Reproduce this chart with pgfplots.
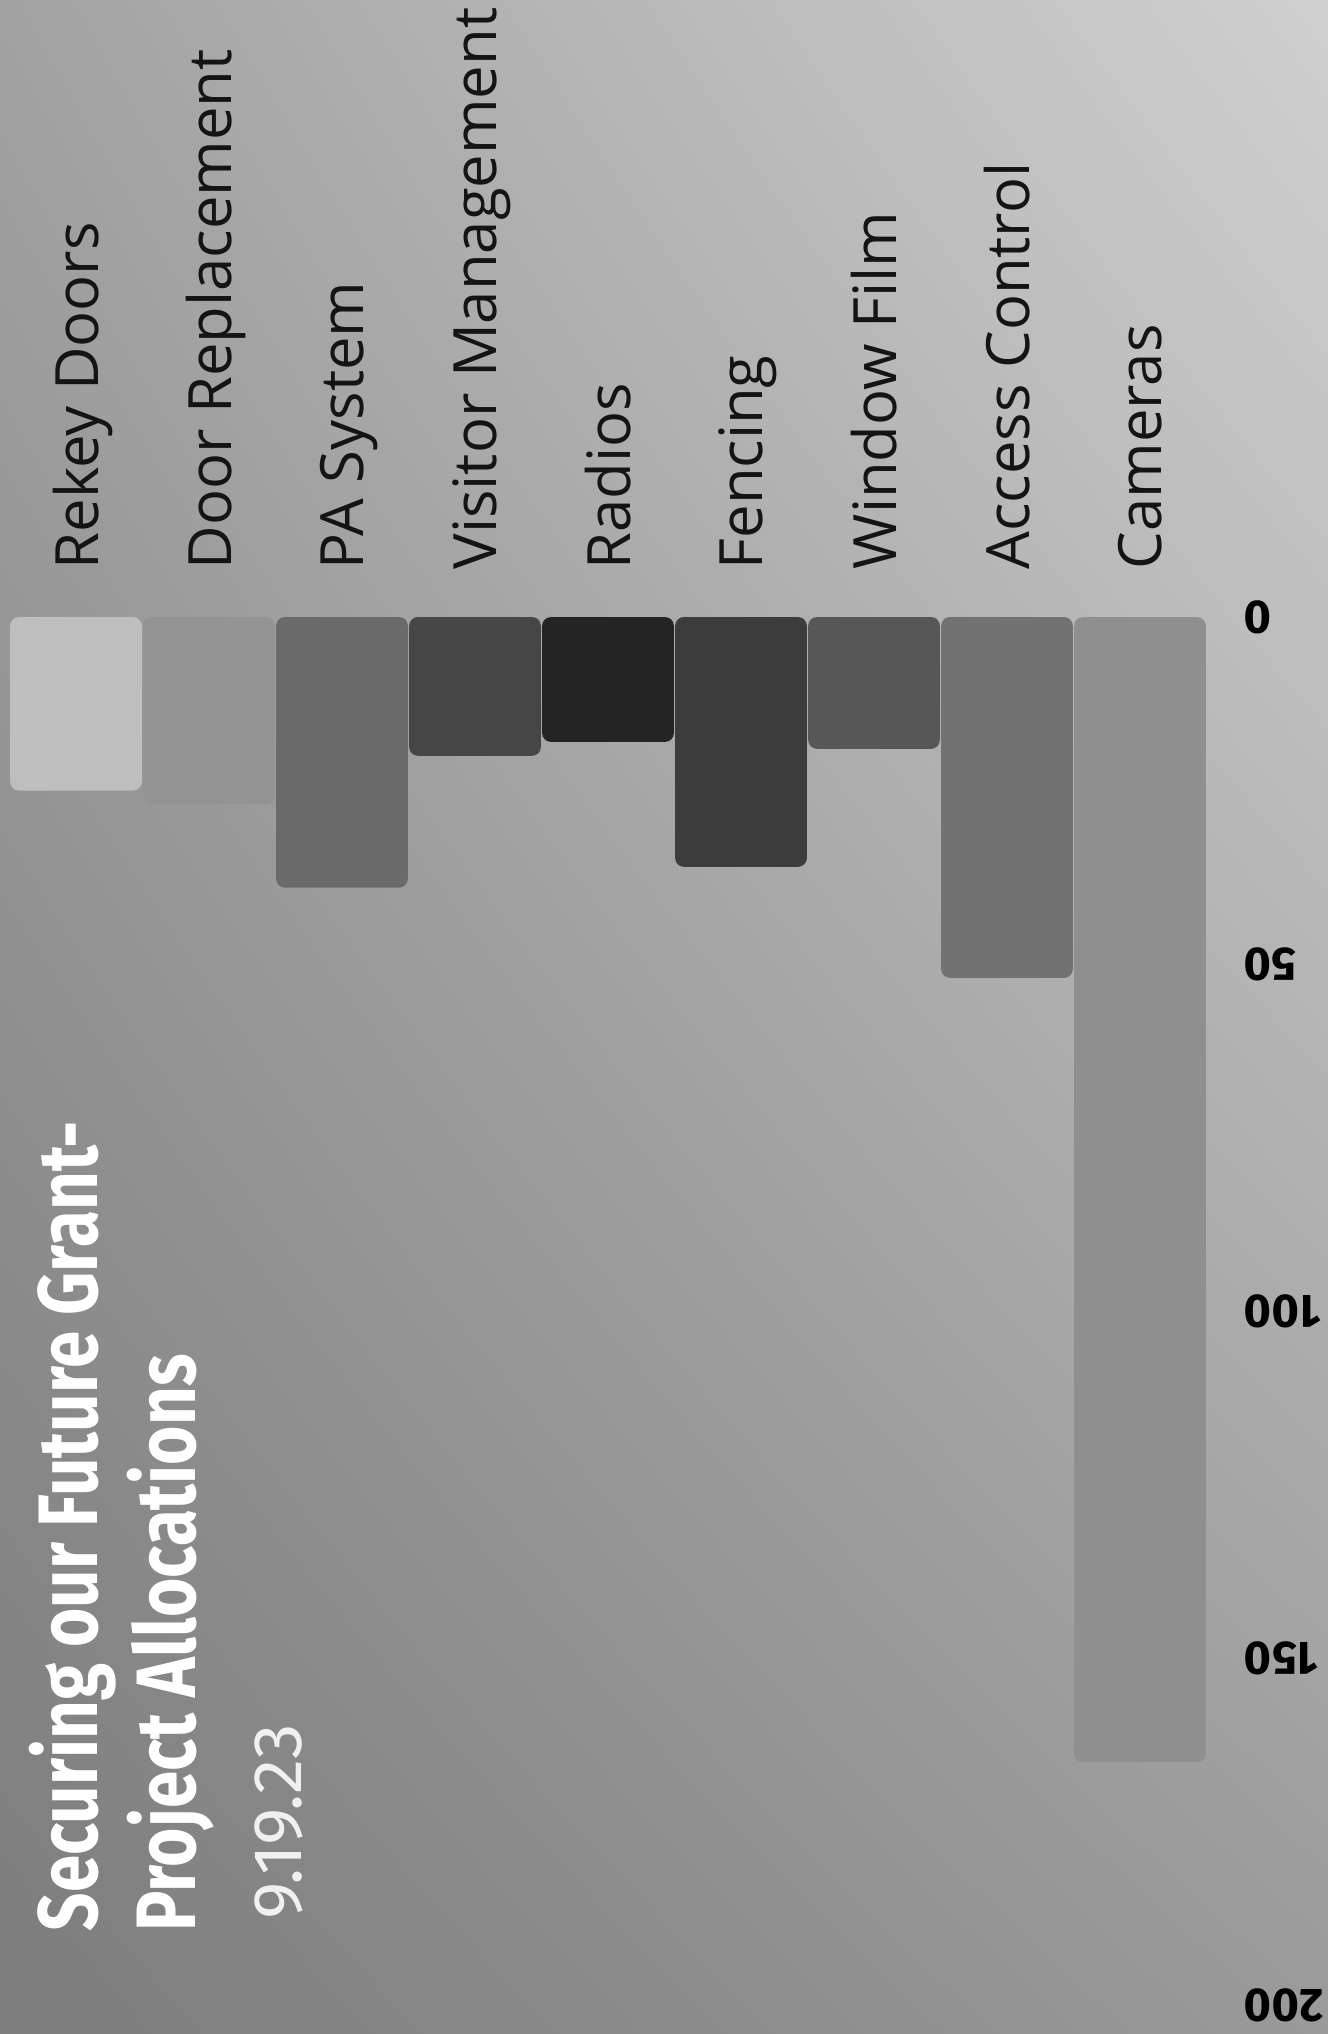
\documentclass[border=0pt]{standalone}
\usepackage{graphicx}
\usepackage{pgfplots}
\pgfplotsset{compat=1.18}
\usetikzlibrary{shadings}
\usepackage{fontspec}
\setmainfont{Open Sans}
\newfontfamily\titlefont{Fira Sans}

% background
\definecolor{bgUL}{HTML}{A2A2A2}
\definecolor{bgUR}{HTML}{D0D0D0}
\definecolor{bgLL}{HTML}{7C7C7C}
\definecolor{bgLR}{HTML}{9A9A9A}
% bars
\definecolor{cRekey}{HTML}{BEBEBE}
\definecolor{cDoor}{HTML}{939393}
\definecolor{cPA}{HTML}{6A6A6A}
\definecolor{cVisitor}{HTML}{464646}
\definecolor{cRadios}{HTML}{242424}
\definecolor{cFencing}{HTML}{3C3C3C}
\definecolor{cWindow}{HTML}{575757}
\definecolor{cAccess}{HTML}{727272}
\definecolor{cCameras}{HTML}{8F8F8F}

\begin{document}
\begin{tikzpicture}
\clip (0,0) rectangle (13.28,20.34);
\shade[upper left=bgUL, upper right=bgUR, lower left=bgLL, lower right=bgLR]
  (0,0) rectangle (13.28,20.34);

\begin{axis}[
  at={(6.08cm,7.23cm)}, anchor=center,
  width=11.97cm, height=13.88cm, scale only axis,
  xmin=-0.5, xmax=8.5, ymin=0, ymax=200, y dir=reverse,
  axis line style={draw=none}, major tick length=0pt,
  xtick={0,...,8},
  xticklabels={Rekey Doors, Door Replacement, PA System, Visitor Management,
    Radios, Fencing, Window Film, Access Control, Cameras},
  xticklabel pos=right,
  xticklabel style={rotate=90, anchor=west, inner sep=0pt, text depth=0pt,
    font=\fontsize{17}{20}\selectfont, text=black!92},
  xticklabel shift=0.47cm,
  ytick={0,50,100,150,200},
  yticklabel pos=right,
  yticklabel style={rotate=180, anchor=east, inner sep=0pt,
    font=\titlefont\bfseries\fontsize{13.4}{16}\selectfont, text=black},
  yticklabel shift=0.37cm,
  /pgf/number format/assume math mode=true,
  ybar, bar width=0.99,
  every axis plot/.append style={draw=none, rounded corners=2.5pt, bar shift=0pt},
  clip=false,
]
\addplot[fill=cRekey]    coordinates {(0,25)};
\addplot[fill=cDoor]     coordinates {(1,27)};
\addplot[fill=cPA]       coordinates {(2,39)};
\addplot[fill=cVisitor]  coordinates {(3,20)};
\addplot[fill=cRadios]   coordinates {(4,18)};
\addplot[fill=cFencing]  coordinates {(5,36)};
\addplot[fill=cWindow]   coordinates {(6,19)};
\addplot[fill=cAccess]   coordinates {(7,52)};
\addplot[fill=cCameras]  coordinates {(8,165)};
\end{axis}

\node[rotate=90, anchor=base west, inner sep=0pt, text=white] at (0.97,1.02)
  {\titlefont\bfseries\fontsize{24}{28}\selectfont\resizebox{8.1cm}{\height}{Securing our Future Grant-}};
\node[rotate=90, anchor=base west, inner sep=0pt, text=white] at (1.95,1.02)
  {\titlefont\bfseries\fontsize{24}{28}\selectfont\resizebox{5.77cm}{\height}{Project Allocations}};
\node[rotate=90, anchor=base west, inner sep=0pt, text=white!94!black] at (3.01,1.14)
  {\titlefont\fontsize{19.6}{24}\selectfont\resizebox{1.95cm}{\height}{9.19.23}};
\end{tikzpicture}
\end{document}
